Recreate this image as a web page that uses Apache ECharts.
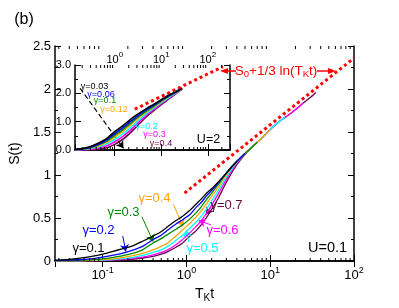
<!DOCTYPE html>
<html><head><meta charset="utf-8">
<script src="https://cdn.jsdelivr.net/npm/echarts@6/dist/echarts.min.js"></script>
<style>html,body{margin:0;padding:0;background:#fff}#c{width:399px;height:308px}</style>
</head><body><div id="c"></div>
<script>
// ---------- data ----------
const tMain = [0.027,0.04,0.06,0.08,0.1,0.13,0.17,0.22,0.3,0.4,0.5,0.6,0.75,0.9,1.1,1.3,1.5,1.75,2,2.4,2.8,3.3,4,5,6,7,8.5,10,12,15,20,25,30,35];
const gammaMain = ['0.1','0.2','0.3','0.4','0.5','0.6','0.7'];
const sMainG01 = [0.01,0.02,0.04,0.06,0.08,0.11,0.14,0.17,0.23,0.29,0.34,0.40,0.47,0.52,0.59,0.66,0.72,0.79,0.84,0.92,0.99,1.07,1.16];
const sMainG02 = [0.005,0.01,0.02,0.03,0.045,0.065,0.09,0.12,0.17,0.25,0.30,0.36,0.43,0.48,0.54,0.62,0.68,0.76,0.82,0.91,0.99,1.07,1.16,1.25];
const sMainG03 = [0.002,0.005,0.01,0.018,0.025,0.04,0.06,0.085,0.13,0.21,0.26,0.31,0.37,0.42,0.49,0.56,0.63,0.72,0.79,0.89,0.98,1.07,1.16,1.25,1.32,1.38];
const sMainG04 = [0.001,0.003,0.006,0.01,0.015,0.025,0.04,0.06,0.09,0.13,0.17,0.21,0.29,0.36,0.44,0.51,0.58,0.67,0.75,0.86,0.96,1.06,1.16,1.25,1.32,1.38,1.46,1.53];
const sMainG05 = [0,0.002,0.004,0.007,0.01,0.017,0.027,0.04,0.065,0.10,0.13,0.17,0.24,0.30,0.38,0.45,0.52,0.61,0.70,0.82,0.93,1.04,1.15,1.25,1.32,1.38,1.46,1.53,1.60,1.67];
const sMainG06 = [0,0.001,0.003,0.005,0.007,0.012,0.02,0.03,0.045,0.07,0.10,0.13,0.19,0.25,0.33,0.40,0.47,0.56,0.65,0.78,0.90,1.02,1.14,1.25,1.32,1.38,1.46,1.53,1.60,1.67,1.76,1.84];
const sMainG07 = [0,0.001,0.002,0.003,0.005,0.008,0.013,0.02,0.035,0.055,0.08,0.11,0.16,0.21,0.29,0.35,0.42,0.51,0.60,0.73,0.86,0.99,1.12,1.24,1.32,1.38,1.46,1.53,1.60,1.67,1.76,1.84,1.90,1.96];
const redMainT = [0.95, 100];
const redMainS = [0.79, 2.36];

const tInset = [0.14,0.2,0.3,0.5,0.7,1,1.5,2,3,5,7,10,15,20,28];
const gammaInset = ['0.03','0.06','0.1','0.12','0.2','0.3','0.4'];
const sInsetG003 = [0.02,0.05,0.12,0.28,0.43,0.65,0.86,1.03,1.25,1.48,1.62,1.78,1.95,2.05,2.18];
const sInsetG006 = [0.02,0.04,0.10,0.24,0.38,0.58,0.79,0.96,1.19,1.44,1.59,1.75,1.93,2.04,2.18];
const sInsetG010 = [0.01,0.04,0.09,0.21,0.33,0.52,0.72,0.89,1.13,1.40,1.55,1.73,1.91,2.03,2.17];
const sInsetG012 = [0.01,0.03,0.07,0.18,0.29,0.46,0.66,0.83,1.08,1.36,1.53,1.70,1.90,2.02,2.17];
const sInsetG020 = [0.01,0.02,0.05,0.14,0.23,0.38,0.57,0.74,1.00,1.31,1.49,1.67,1.87,2.00,2.16];
const sInsetG030 = [0.00,0.01,0.03,0.09,0.16,0.29,0.48,0.65,0.92,1.26,1.44,1.64,1.85,1.99,2.16];
const sInsetG040 = [0.00,0.005,0.01,0.04,0.09,0.20,0.38,0.55,0.84,1.20,1.40,1.60,1.82,1.97,2.15];
const redInsetT = [2.7, 210];
const redInsetS = [1.44, 2.94];

const mainYTicks = ['0','0.5','1','1.5','2','2.5'];
const insetYTicks = ['0.0','1.0','2.0','3.0'];
const minorMainX = [0.03,0.04,0.05,0.06,0.07,0.08,0.09,0.2,0.3,0.4,0.5,0.6,0.7,0.8,0.9,2,3,4,5,6,7,8,9,20,30,40,50,60,70,80,90];
const minorInsetX = [0.2,0.3,0.4,0.5,0.6,0.7,0.8,0.9,2,3,4,5,6,7,8,9,20,30,40,50,60,70,80,90,200];

// annotation arrows (data coords): [t1,s1,t2,s2]
const arrowsMain = [null,[0.174,0.29,0.189,0.11],[0.294,0.515,0.402,0.225],[0.70,0.66,0.91,0.40],[1.07,0.22,0.99,0.36],[1.97,0.42,1.40,0.47],[1.97,0.63,1.72,0.54]];
const dashArrowInset = [0.18,2.18,1.54,0.06];

// ---------- styling ----------
const FONT = "'Liberation Sans', Arial, Helvetica, sans-serif";
const colors = ['#000000','#0000ff','#008b00','#ffa500','#00ffff','#ff00ff','#670748'];
const mainCurves = [sMainG01,sMainG02,sMainG03,sMainG04,sMainG05,sMainG06,sMainG07];
const insetCurves = [sInsetG003,sInsetG006,sInsetG010,sInsetG012,sInsetG020,sInsetG030,sInsetG040];

const expRich = {
  b:{fontSize:13, fontFamily:FONT, color:'#000'},
  e:{fontSize:9, fontFamily:FONT, color:'#000', padding:[0,0,10,0]}
};
const expRichSmall = {
  b:{fontSize:11, fontFamily:FONT, color:'#000'},
  e:{fontSize:8, fontFamily:FONT, color:'#000', padding:[0,0,10,0]}
};
function expFmt(v){ const e = Math.round(Math.log10(v)); return '{b|10}{e|' + e + '}'; }

const axLine = {show:true, lineStyle:{color:'#000', width:1.5}};
function xAxisDef(grid, min, max, pos, labels, small){
  return {gridIndex:grid, type:'log', logBase:10, min:min, max:max, position:pos,
    axisLine:axLine, axisTick:{show:true, inside:true, length:6, lineStyle:{color:'#000', width:1}},
    axisLabel:{show:labels, formatter:expFmt, rich: small?expRichSmall:expRich, margin: small?-4:5, showMinLabel:false, showMaxLabel: !small},
    splitLine:{show:false}, minorTick:{show:false}};
}
function yAxisDef(grid, min, max, interval, pos, labels, ticks, fs){
  return {gridIndex:grid, type:'value', min:min, max:max, interval:interval, position:pos,
    axisLine:axLine, axisTick:{show:true, inside:true, length:6, lineStyle:{color:'#000', width:1}},
    minorTick:{show:true, splitNumber:2, length:3, lineStyle:{color:'#000', width:1}},
    axisLabel:{show:labels, fontSize:fs, fontFamily:FONT, color:'#000', margin:4,
      formatter:(v)=>ticks[Math.round((v-min)/interval)]},
    splitLine:{show:false}, minorSplitLine:{show:false}};
}

const series = [];
mainCurves.forEach((vals,i)=>{
  const s = {type:'line', xAxisIndex:0, yAxisIndex:0, data: vals.map((v,j)=>[tMain[j],v]),
    showSymbol:false, smooth:0.2, lineStyle:{color:colors[i], width:1.3}, z:10-i, silent:true};
  if (arrowsMain[i]) {
    const a = arrowsMain[i];
    s.markLine = {silent:true, symbol:['none','arrow'], symbolSize:7, label:{show:false},
      lineStyle:{color:colors[i], width:1, type:'solid'},
      data:[[{coord:[a[0],a[1]]},{coord:[a[2],a[3]]}]]};
  }
  series.push(s);
});
series.push({type:'line', xAxisIndex:0, yAxisIndex:0, data: redMainT.map((t,j)=>[t,redMainS[j]]),
  showSymbol:false, lineStyle:{color:'#ff0000', width:3, type:[3,3], cap:'butt'}, z:12, silent:true});

insetCurves.forEach((vals,i)=>{
  const s = {type:'line', xAxisIndex:2, yAxisIndex:2, data: vals.map((v,j)=>[tInset[j],v]),
    showSymbol:false, smooth:0.2, lineStyle:{color:colors[i], width:1.6}, z:10-i, silent:true};
  if (i===0) {
    const a = dashArrowInset;
    s.markLine = {silent:true, symbol:['none','arrow'], symbolSize:7, label:{show:false},
      lineStyle:{color:'#000', width:1.2, type:[5,3]},
      data:[[{coord:[a[0],a[1]]},{coord:[a[2],a[3]]}]]};
  }
  series.push(s);
});
series.push({type:'line', xAxisIndex:2, yAxisIndex:2, data: redInsetT.map((t,j)=>[t,redInsetS[j]]),
  showSymbol:false, lineStyle:{color:'#ff0000', width:3, type:[3,3], cap:'butt'}, z:12, silent:true});

function minorSeries(xi, yi, vals, y0, y1){
  return {type:'custom', xAxisIndex:xi, yAxisIndex:yi, data: vals.map(t=>[t,y0]), silent:true, z:20,
    renderItem:(p,api)=>{
      const t = api.value(0);
      const b = api.coord([t,y0]); const tp = api.coord([t,y1]);
      return {type:'group', children:[
        {type:'line', shape:{x1:b[0],y1:b[1],x2:b[0],y2:b[1]-3}, style:{stroke:'#000', lineWidth:1}},
        {type:'line', shape:{x1:tp[0],y1:tp[1],x2:tp[0],y2:tp[1]+3}, style:{stroke:'#000', lineWidth:1}}
      ]};
    }};
}
series.push(minorSeries(0,0,minorMainX,0,2.5));
series.push(minorSeries(2,2,minorInsetX,0,3));

function txt(x,y,text,color,size,extra){
  return Object.assign({type:'text', x:x, y:y, z:100, silent:true,
    style:Object.assign({text:text, fill:color, font: size+'px '+FONT, align:'center', verticalAlign:'middle', textAlign:'center', textVerticalAlign:'middle'}, extra||{})});
}
const mainLabelPos = [[88.5,248],[98.5,230],[123.5,212],[154.5,198],[202.5,248],[222.5,230],[226.5,205]];
const insetLabelPos = [[94.5,87],[101,94.5],[105,100.5],[114,110],[146.7,127],[154.5,135],[161,143.5]];
const graphics = [];
graphics.push(txt(24,20,'(b)','#000',16));
gammaMain.forEach((g,i)=>graphics.push(txt(mainLabelPos[i][0],mainLabelPos[i][1],'γ='+g,colors[i],13)));
gammaInset.forEach((g,i)=>graphics.push(txt(insetLabelPos[i][0],insetLabelPos[i][1],'γ='+g,colors[i],9)));
graphics.push(txt(327.5,248,'U=0.1','#000',14.5));
graphics.push(txt(208.5,140,'U=2','#000',12.5));
graphics.push({type:'text', x:276, y:71, z:100, silent:true, style:{
  text:'{a|S}{s|0}{a|+1/3 ln(T}{s|K}{a|t)}', align:'center', verticalAlign:'middle', textAlign:'center', textVerticalAlign:'middle',
  rich:{a:{fontSize:13.5, fontFamily:FONT, fill:'#ff0000', color:'#ff0000'}, s:{fontSize:9.5, fontFamily:FONT, fill:'#ff0000', color:'#ff0000', padding:[7,0,0,0]}}}});
// arrows from annotation
graphics.push({type:'line', z:100, silent:true, shape:{x1:236,y1:71,x2:226,y2:71}, style:{stroke:'#ff0000', lineWidth:1.5}});
graphics.push({type:'polygon', z:100, silent:true, shape:{points:[[220,71],[228,68],[228,74]]}, style:{fill:'#ff0000'}});
graphics.push({type:'line', z:100, silent:true, shape:{x1:317,y1:71,x2:330,y2:71}, style:{stroke:'#ff0000', lineWidth:1.5}});
graphics.push({type:'polygon', z:100, silent:true, shape:{points:[[336,71],[328,68],[328,74]]}, style:{fill:'#ff0000'}});

const chart = echarts.init(document.getElementById('c'), null, {renderer:'canvas'});
chart.setOption({
  animation:false,
  backgroundColor:'#fff',
  grid:[
    {left:47, top:46, width:307, height:215, containLabel:false},
    {left:75, top:65, width:155, height:85, containLabel:false, show:true, backgroundColor:'#fff', borderWidth:0}
  ],
  xAxis:[
    Object.assign(xAxisDef(0,0.027,100,'bottom',true,false), {
      name:'{a|T}{s|K}{a|t}', nameLocation:'middle', nameGap:20,
      nameTextStyle:{rich:{a:{fontSize:14, fontFamily:FONT, color:'#000'}, s:{fontSize:10, fontFamily:FONT, color:'#000', padding:[8,0,0,0]}}}}),
    xAxisDef(0,0.027,100,'top',false,false),
    xAxisDef(1,0.14,300,'bottom',false,true),
    xAxisDef(1,0.14,300,'top',true,true)
  ],
  yAxis:[
    Object.assign(yAxisDef(0,0,2.5,0.5,'left',true,mainYTicks,13), {
      name:'S(t)', nameLocation:'middle', nameGap:24, nameRotate:90,
      nameTextStyle:{fontSize:14, fontFamily:FONT, color:'#000'}}),
    yAxisDef(0,0,2.5,0.5,'right',false,mainYTicks,13),
    yAxisDef(1,0,3,1,'left',true,insetYTicks,11),
    yAxisDef(1,0,3,1,'right',false,insetYTicks,11)
  ],
  series: series,
  graphic: graphics
});
</script></body></html>
